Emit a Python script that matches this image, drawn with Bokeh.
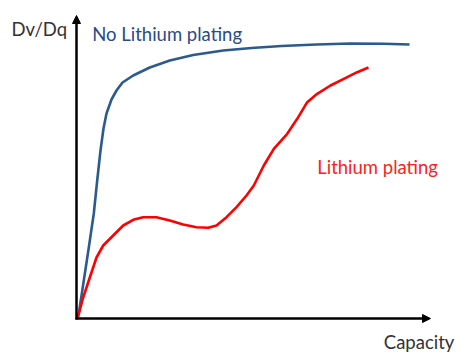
from bokeh.plotting import figure
from bokeh.models import Range1d, Arrow, NormalHead, Label
from bokeh.embed import file_html
from bokeh.resources import INLINE

# Curve samples (capacity, dV/dQ in arbitrary units)
no_plating_cap = [1, 2.3, 7.3, 12.3, 17.3, 20.7, 24, 27, 30, 35, 40, 46, 56.7, 73.3, 93.3, 116.7,
                  146.7, 175, 205, 240, 274, 307, 333]
no_plating_dvdq = [0, 5, 38, 71, 105, 138, 168, 190, 205, 219, 228, 236, 243, 251, 258, 263.5,
                   268, 270.5, 272.5, 274, 275, 274.7, 274]

plating_cap = [1, 6.7, 13.3, 20, 26.7, 36.7, 46.7, 56.7, 66.7, 80, 93.3, 106.7, 120, 131.7, 140,
               150, 160, 170, 177.3, 187.3, 197.3, 210.7, 220.7, 230.7, 240.7, 254, 267.3, 280.7, 292]
plating_dvdq = [0, 21, 41, 61, 73, 83, 93, 98.7, 101.3, 101.3, 98, 94, 91.3, 90.7, 93,
                101.3, 111.3, 123, 133, 153, 169.7, 184.7, 199.7, 216.3, 224.7, 233, 239.7, 246.3, 251]

x_axis_end = 354
y_axis_end = 303

p = figure(width=466, height=360, x_range=Range1d(-76, 390), y_range=Range1d(-42, 318),
           x_axis_type=None, y_axis_type=None, min_border=0,
           toolbar_location=None, output_backend="svg")
p.grid.visible = False
p.outline_line_color = None
p.background_fill_color = "white"
p.border_fill_color = "white"

p.line(no_plating_cap, no_plating_dvdq, line_color="#2b5b8c", line_width=2.6, line_join="round")
p.line(plating_cap, plating_dvdq, line_color="#ff0000", line_width=2.6, line_join="round")

p.add_layout(Arrow(end=NormalHead(size=8, fill_color="black", line_color="black"),
                   x_start=0, y_start=-1, x_end=0, y_end=y_axis_end,
                   line_color="black", line_width=2.5))
p.add_layout(Arrow(end=NormalHead(size=8, fill_color="black", line_color="black"),
                   x_start=-1, y_start=0, x_end=x_axis_end, y_end=0,
                   line_color="black", line_width=2.5))

font = "Lato"
fs = "18.5px"
p.add_layout(Label(x=-65, y=289.7, text="Dv/Dq", text_font=font, text_font_size=fs,
                   text_color="#333333", text_baseline="alphabetic", text_align="left"))
p.add_layout(Label(x=15.7, y=284.7, text="No Lithium plating", text_font=font, text_font_size=fs,
                   text_color="#2c4a88", text_baseline="alphabetic", text_align="left"))
p.add_layout(Label(x=240.7, y=151.3, text="Lithium plating", text_font=font, text_font_size=fs,
                   text_color="#ff2020", text_baseline="alphabetic", text_align="left"))
p.add_layout(Label(x=307.3, y=-23.7, text="Capacity", text_font=font, text_font_size=fs,
                   text_color="#333333", text_baseline="alphabetic", text_align="left"))

open("out.html", "w").write(file_html(p, INLINE))
